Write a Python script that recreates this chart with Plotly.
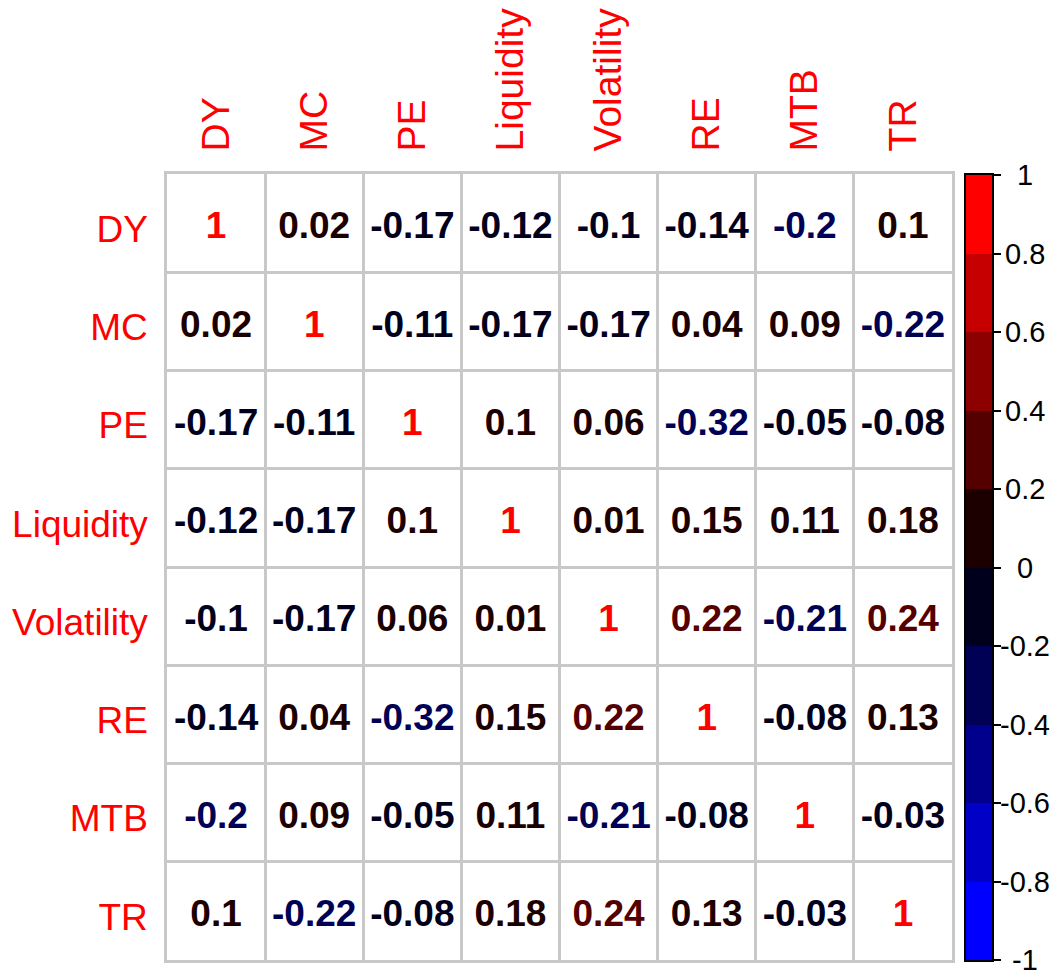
import math
import plotly.graph_objects as go

variables = ["DY", "MC", "PE", "Liquidity", "Volatility", "RE", "MTB", "TR"]
corr = [
    [1, 0.02, -0.17, -0.12, -0.1, -0.14, -0.2, 0.1],
    [0.02, 1, -0.11, -0.17, -0.17, 0.04, 0.09, -0.22],
    [-0.17, -0.11, 1, 0.1, 0.06, -0.32, -0.05, -0.08],
    [-0.12, -0.17, 0.1, 1, 0.01, 0.15, 0.11, 0.18],
    [-0.1, -0.17, 0.06, 0.01, 1, 0.22, -0.21, 0.24],
    [-0.14, 0.04, -0.32, 0.15, 0.22, 1, -0.08, 0.13],
    [-0.2, 0.09, -0.05, 0.11, -0.21, -0.08, 1, -0.03],
    [0.1, -0.22, -0.08, 0.18, 0.24, 0.13, -0.03, 1],
]
cbar_ticks = [-1, -0.8, -0.6, -0.4, -0.2, 0, 0.2, 0.4, 0.6, 0.8, 1]
cbar_labels = ["-1", "-0.8", "-0.6", "-0.4", "-0.2", "0", "0.2", "0.4", "0.6", "0.8", "1"]
bin_centers = [-0.9, -0.7, -0.5, -0.3, -0.1, 0.1, 0.3, 0.5, 0.7, 0.9]

palette = ["#0000FF", "#0000C6", "#00008D", "#000055", "#00001C",
           "#1C0000", "#550000", "#8D0000", "#C60000", "#FF0000"]

W, H = 1060, 976
FONT = "Arial, Liberation Sans, sans-serif"
TEXT_DY = 0.06  # small downward nudge of cell numbers (style)


def bin_index(v):
    idx = math.ceil(round((v + 1) / 0.2, 9)) - 1
    return max(0, min(9, idx))


def fmt(v):
    return f"{v:.2f}".rstrip("0").rstrip(".")


n = len(variables)
xs, ys, texts, colors = [], [], [], []
for i in range(n):
    for j in range(n):
        v = corr[i][j]
        xs.append(j)
        ys.append(i + TEXT_DY)
        texts.append(fmt(v))
        colors.append(palette[bin_index(v)])

fig = go.Figure()

fig.add_trace(go.Scatter(
    x=xs, y=ys, text=texts, mode="text",
    textfont=dict(family=FONT, size=37, color=colors, weight="bold"),
    hoverinfo="skip", showlegend=False, xaxis="x", yaxis="y",
))

cs = []
for k, c in enumerate(palette):
    cs.append([k / 10, c])
    cs.append([(k + 1) / 10, c])
fig.add_trace(go.Heatmap(
    x=[0], y=bin_centers, z=[[b] for b in bin_centers],
    zmin=-1, zmax=1, colorscale=cs, showscale=False,
    xaxis="x2", yaxis="y2", hoverinfo="skip",
))

gx0, gx1 = 167, 952
gy0, gy1 = 174, 960
cx0, cx1 = 966, 992
cy0, cy1 = 175, 960

for t, lab in zip(cbar_ticks, cbar_labels):
    fig.add_annotation(
        x=1025 / W, xref="paper", y=t, yref="y2", text=lab, showarrow=False,
        xanchor="center", yanchor="middle",
        font=dict(family=FONT, size=29, color="black"),
    )

fig.update_layout(
    width=W, height=H,
    margin=dict(l=0, r=0, t=0, b=0),
    paper_bgcolor="white", plot_bgcolor="white",
    showlegend=False,
    xaxis=dict(
        domain=[gx0 / W, gx1 / W], range=[-0.5, n - 0.5],
        tickvals=list(range(n)), ticktext=variables, side="top",
        tickangle=-90, tickfont=dict(family=FONT, size=39, color="#FF0000"),
        ticks="", ticklabelstandoff=12, showgrid=False, zeroline=False,
        showline=True, linecolor="#C8C8C8", linewidth=2.5, mirror=True,
        minor=dict(tick0=-0.5, dtick=1, showgrid=True, gridcolor="#C8C8C8", gridwidth=2.5, ticks=""),
        automargin=False, fixedrange=True,
    ),
    yaxis=dict(
        domain=[1 - gy1 / H, 1 - gy0 / H], range=[n - 0.5, -0.5],
        tickvals=[k + TEXT_DY for k in range(n)], ticktext=variables,
        tickfont=dict(family=FONT, size=37, color="#FF0000"),
        ticks="", ticklabelstandoff=9, showgrid=False, zeroline=False,
        showline=True, linecolor="#C8C8C8", linewidth=2.5, mirror=True,
        minor=dict(tick0=-0.5, dtick=1, showgrid=True, gridcolor="#C8C8C8", gridwidth=2.5, ticks=""),
        automargin=False, fixedrange=True,
    ),
    xaxis2=dict(
        domain=[cx0 / W, cx1 / W], range=[-0.5, 0.5], anchor="y2",
        showticklabels=False, ticks="", showgrid=False, zeroline=False,
        showline=True, linecolor="black", linewidth=2, mirror=True,
        automargin=False, fixedrange=True,
    ),
    yaxis2=dict(
        domain=[1 - cy1 / H, 1 - cy0 / H], range=[-1, 1], anchor="x2", side="right",
        tickvals=cbar_ticks, showticklabels=False,
        ticks="outside", ticklen=7, tickwidth=2, tickcolor="black",
        showgrid=False, zeroline=False,
        showline=True, linecolor="black", linewidth=2, mirror=True,
        automargin=False, fixedrange=True,
    ),
)

fig.write_html(
    "out.html",
    config={"displayModeBar": False},
    post_script="document.body.style.margin='0';document.body.style.overflow='hidden';",
)
